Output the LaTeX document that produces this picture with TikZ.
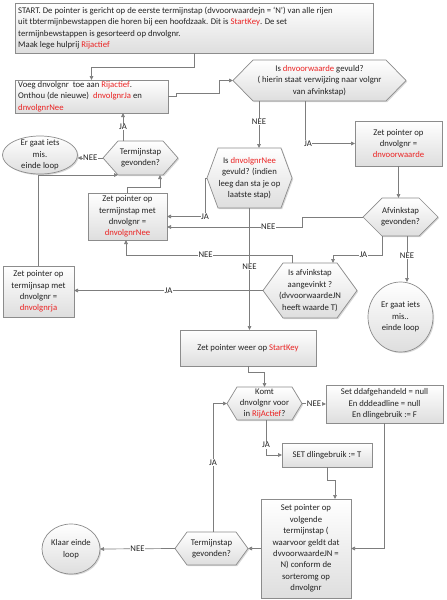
\documentclass[tikz,border=0pt]{standalone}
\usepackage{fontspec}
\setmainfont{Carlito}
\usetikzlibrary{arrows.meta,shadows,calc,shapes.geometric}
\definecolor{ln}{RGB}{125,125,125}
\definecolor{bd}{RGB}{140,140,140}
\definecolor{fl}{RGB}{222,222,222}
\definecolor{rd}{RGB}{235,35,35}
\definecolor{tx}{RGB}{35,35,35}
\newcommand\rt[1]{\textcolor{rd}{#1}}
\tikzset{
  shd/.style={drop shadow={shadow xshift=1.2pt,shadow yshift=-1.2pt,opacity=0.3,fill=gray}},
  shp/.style={draw=bd,line width=0.7pt,top color=white,bottom color=fl,shd,inner sep=0pt,outer sep=0pt},
  box/.style={shp,rectangle},
  ell/.style={shp,ellipse},
  hexph/.style={rectangle,inner sep=0pt,outer sep=0pt},
  hexpath/.style={draw=bd,line width=0.7pt,top color=white,bottom color=fl,shd},
  txt/.style={font=\fontsize{8.7}{11.4}\selectfont,text=tx,align=center,inner sep=0pt},
  conn/.style={draw=ln,line width=0.7pt,-{Triangle[length=4pt,width=3.6pt]}},
  lbl/.style={txt,fill=white,inner sep=0.6pt},
}
\newcommand\hexdraw[2]{\path[hexpath] (#1.west) -- ([xshift=#2]#1.north west) -- ([xshift=-#2]#1.north east) -- (#1.east) -- ([xshift=-#2]#1.south east) -- ([xshift=#2]#1.south west) -- cycle;}
\begin{document}
\begin{tikzpicture}[x=1pt,y=-1pt]
\useasboundingbox (0,0) rectangle (447,600);
\fill[white] (0,0) rectangle (447,600);

% START box
\node[box,minimum width=358,minimum height=50] (start) at (194,28) {};
\node[txt,align=left,anchor=west] (startt) at ([xshift=3]start.west) {START. De pointer is gericht op de eerste termijnstap (dvvoorwaardejn = ‘N’) van alle rijen\\uit tbtermijnbewstappen die horen bij een hoofdzaak. Dit is \rt{StartKey}. De set\\termijnbewstappen is gesorteerd op dnvolgnr.\\Maak lege hulprij \rt{Rijactief}};

% Voeg box
\node[box,minimum width=153,minimum height=33] (voeg) at (91.5,96.5) {};
\node[txt,align=left,anchor=west] (voegt) at ([xshift=3]voeg.west) {Voeg dnvolgnr\ \ toe aan \rt{Rijactief}.\\Onthou (de nieuwe)\ \ \rt{dnvolgnrJa} en\\\rt{dnvolgnrNee}};

% hexagon A
\node[hexph,minimum width=173,minimum height=41] (hA) at (319.5,80.5) {};
\hexdraw{hA}{20}
\node[txt] (hAt) at (hA) {Is \rt{dnvoorwaarde} gevuld?\\( hierin staat verwijzing naar volgnr\\van afvinkstap)};

% box dnvoorwaarde
\node[box,minimum width=87,minimum height=45] (dnvw) at (398.5,143.5) {};
\node[txt] (dnvwt) at (dnvw) {Zet pointer op\\dnvolgnr =\\\rt{dnvoorwaarde}};

% hexagon C Afvinkstap
\node[hexph,minimum width=75,minimum height=38] (hC) at (400.5,217) {};
\hexdraw{hC}{19}
\node[txt] (hCt) at (hC) {Afvinkstap\\gevonden?};

% hexagon B
\node[hexph,minimum width=85,minimum height=60] (hB) at (249.5,178) {};
\hexdraw{hB}{11}
\node[txt] (hBt) at (hB) {Is \rt{dnvolgnrNee}\\gevuld? (indien\\leeg dan sta je op\\laatste stap)};

% box zet pointer nee
\node[box,minimum width=79,minimum height=47] (zptNee) at (127.5,216.5) {};
\node[txt] (zptNeet) at (zptNee) {Zet pointer op\\termijnstap met\\dnvolgnr =\\\rt{dnvolgnrNee}};

% hexagon top Termijnstap
\node[hexph,minimum width=75,minimum height=34] (hTop) at (140.5,158) {};
\hexdraw{hTop}{15}
\node[txt] (hTopt) at (hTop) {Termijnstap\\gevonden?};

% ellipse 1
\node[ell,minimum width=75,minimum height=38] (ell1) at (40,155) {};
\node[txt] (ell1t) at (ell1) {Er gaat iets\\mis.\\einde loop};

% box zet pointer ja
\node[box,minimum width=71,minimum height=51] (zptJa) at (38.5,291.5) {};
\node[txt] (zptJat) at (zptJa) {Zet pointer op\\termijnsap met\\dnvolgnr =\\\rt{dnvolgnrja}};

% hexagon D
\node[hexph,minimum width=94,minimum height=55] (hD) at (310,290.5) {};
\hexdraw{hD}{20}
\node[txt] (hDt) at (hD) {Is afvinkstap\\aangevinkt ?\\(dvvoorwaardeJN\\heeft waarde T)};

% ellipse 2
\node[ell,minimum width=65,minimum height=70] (ell2) at (400.5,317) {};
\node[txt] (ell2t) at (ell2) {Er gaat iets\\mis..\\einde loop};

% StartKey box
\node[box,minimum width=136,minimum height=36] (skey) at (248,348) {};
\node[txt] (skeyt) at (skey) {Zet pointer weer op \rt{StartKey}};

% hexagon K
\node[hexph,minimum width=75,minimum height=33] (hK) at (264.5,403.5) {};
\hexdraw{hK}{10}
\node[txt] (hKt) at (hK) {Komt\\dnvolgnr voor\\in \rt{RijActief}?};

% set box
\node[box,minimum width=117,minimum height=38] (setb) at (384.5,404) {};
\node[txt] (setbt) at (setb) {Set ddafgehandeld = null\\En dddeadline = null\\En dlingebruik := F};

% SET T box
\node[box,minimum width=90,minimum height=24] (setT) at (327,455) {};
\node[txt] (setTt) at (setT) {SET dlingebruik := T};

% big box
\node[box,minimum width=90,minimum height=99] (big) at (306,548.5) {};
\node[txt] (bigt) at (big) {Set pointer op\\volgende\\termijnstap (\\waarvoor geldt dat\\dvvoorwaardeJN =\\N) conform de\\sorteromg op\\dnvolgnr};

% hexagon T2
\node[hexph,minimum width=73,minimum height=33] (hT2) at (211.5,548.5) {};
\hexdraw{hT2}{12}
\node[txt] (hT2t) at (hT2) {Termijnstap\\gevonden?};

% ellipse Klaar
\node[ell,minimum width=58,minimum height=50] (ellK) at (71,549) {};
\node[txt] (ellKt) at (ellK) {Klaar einde\\loop};

% connectors
\draw[conn] (start.south) -- ++(0,14) -| (voeg.north);
\draw[conn] (voeg.east) -- ++(8,0) -- ++(0,-3.5) -| ($(hA.west)+(-14,0)$) -- (hA.west);
\draw[conn] ([xshift=-60.5]hA.south) -- node[lbl,pos=0.43]{NEE} ([xshift=9.5]hB.north);
\draw[conn] ([xshift=-14.5]hA.south) |- node[lbl,pos=0.53]{JA} (dnvw.west);
\draw[conn] (dnvw.south) -- (dnvw.south |- hC.north);
\draw[conn] (hC.west) -- ++(-61,0) -- ++(0,10) -- node[lbl,pos=0.25]{NEE} ([yshift=-10.5]zptNee.east);
\draw[conn] (hB.west) -- ++(-2,0) |- node[lbl,pos=0.5]{JA} (zptNee.east);
\draw[conn] (hB.south) -- node[lbl,pos=0.48]{NEE} (hB.south |- skey.north);
\draw[conn] (zptNee.north) -- ++(0,-6) -| ([xshift=19.5]hTop.south);
\draw[conn] (zptJa.north) |- ([xshift=-22.5]hTop.south);
\draw[conn] ([xshift=-17.5]hTop.north) -- node[lbl]{JA} ([xshift=-17.5]hTop.north |- voeg.south);
\draw[conn] (hTop.west) -- node[lbl]{NEE} (ell1.east |- hTop.west);
\draw[conn] ([xshift=-18]hD.north) -- ++(0,-8) -| node[lbl,pos=0.26]{NEE} ([xshift=-1.5]zptNee.south);
\draw[conn] (hD.west) -- node[lbl,pos=0.5]{JA} (hD.west -| zptJa.east);
\draw[conn] ([xshift=-18.5]hC.south) -- ++(0,19) -| node[lbl,pos=0.19]{JA} ([xshift=23]hD.north);
\draw[conn] ([xshift=6.5]hC.south) -- node[lbl,pos=0.43]{NEE} ([xshift=6.5]hC.south |- ell2.north);
\draw[conn] (skey.south) -- ++(0,6) -| (hK.north);
\draw[conn] (hK.east) -- node[lbl]{NEE} (setb.west);
\draw[conn] ([xshift=1.5]hK.south) |- node[lbl,pos=0.36]{JA} (setT.west);
\draw[conn] (setT.south) -- ++(0,13) -| ([xshift=29]big.north);
\draw[conn] (setb.south) |- (big.east);
\draw[conn] (big.west) -- (hT2.east);
\draw[conn] ([xshift=1.5]hT2.north) |- node[lbl,pos=0.27]{JA} (hK.west);
\draw[conn] (hT2.west) -- node[lbl]{NEE} (ellK.east);
\end{tikzpicture}
\end{document}
